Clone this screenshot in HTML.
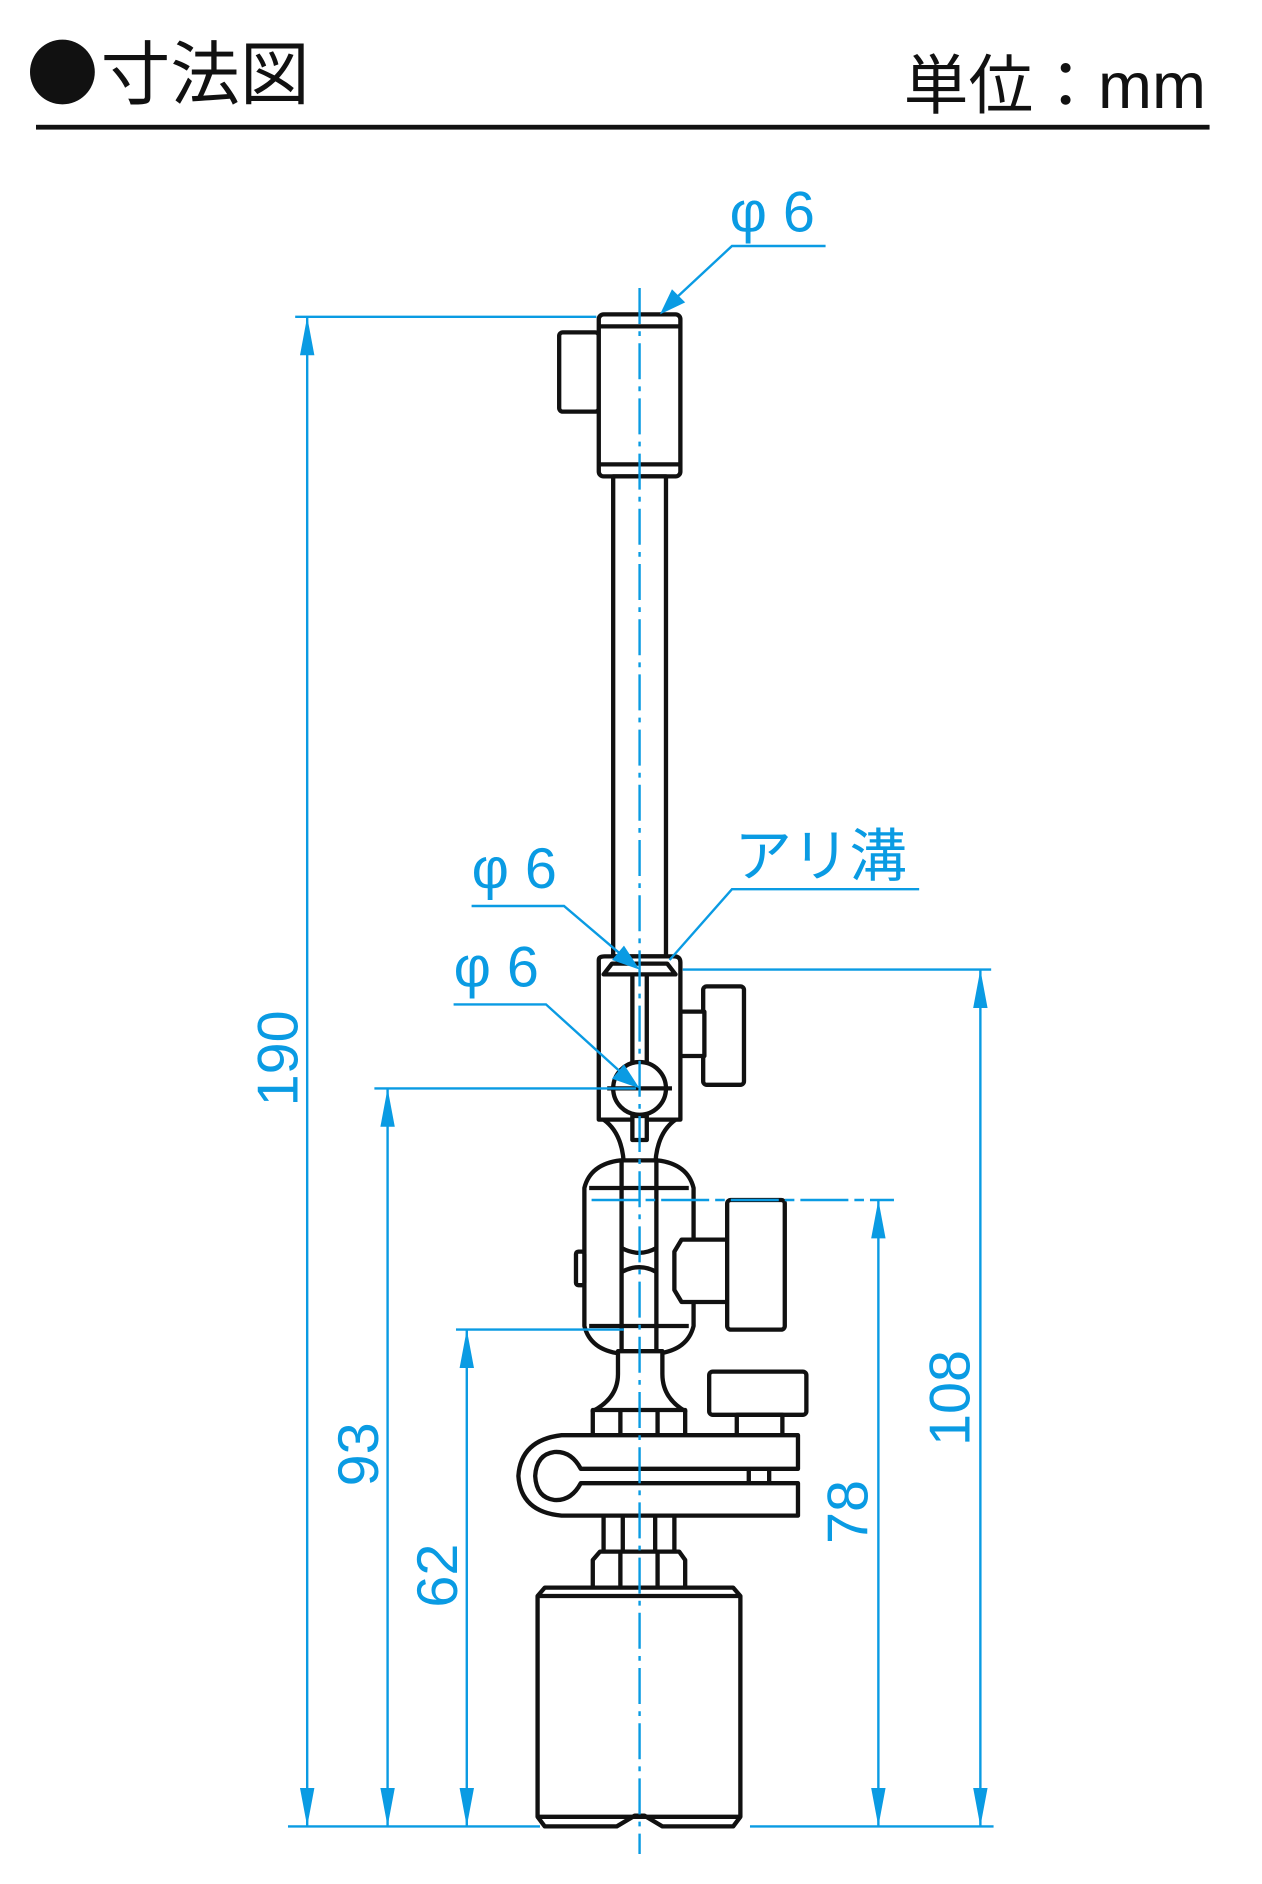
<!DOCTYPE html>
<html><head><meta charset="utf-8"><style>
html,body{margin:0;padding:0;background:#fff;width:1262px;height:1884px;overflow:hidden}
svg{display:block}
.b{fill:none;stroke:#111;stroke-width:3.6;stroke-linejoin:round}
.w{fill:#fff;stroke:#111;stroke-width:3.6;stroke-linejoin:round}
.c{stroke:#0a9be3;stroke-width:2;fill:none}
.a{fill:#0a9be3}
.t{fill:#0a9be3;font-family:"Liberation Sans","Noto Sans CJK JP",sans-serif}
</style></head><body>
<svg width="1262" height="1884" viewBox="0 0 1051.7 1570" preserveAspectRatio="none">
<!-- header -->
<circle cx="52" cy="60" r="27" fill="#111"/>
<text x="84" y="82" font-size="58" font-family="'Liberation Sans','Noto Sans CJK JP',sans-serif" fill="#111">寸法図</text>
<text x="1005" y="90" text-anchor="end" font-size="54" font-family="'Liberation Sans','Noto Sans CJK JP',sans-serif" fill="#111">単位：mm</text>
<rect x="30" y="104" width="978" height="4" fill="#111"/>

<!-- drawing -->
<rect class="w" x="466" y="277" width="33" height="66" rx="3"/>
<rect class="w" x="499" y="262" width="68" height="135" rx="4"/>
<line class="b" x1="499" y1="272" x2="567" y2="272"/>
<line class="b" x1="499" y1="387" x2="567" y2="387"/>
<rect class="w" x="511" y="397" width="44" height="400"/>
<!-- mid block -->
<rect class="w" x="586" y="822" width="34" height="82" rx="3"/>
<rect class="w" x="567" y="843" width="20" height="37"/>
<path class="w" d="M499 800 Q499 797 504 797 L562 797 Q567 797 567 802 L567 933 L499 933 Z"/>
<path class="b" d="M503 812 L510 803 L556 803 L563 812 Z"/>
<path class="b" d="M527 812 L527 890 M539 812 L539 890"/>
<circle class="w" cx="533" cy="907" r="22"/>
<line class="b" x1="506" y1="907" x2="560" y2="907"/>
<!-- neck -->
<path class="w" d="M503 933 Q520 945 520 975 L546 975 Q546 945 563 933 Z"/>
<rect class="w" x="527" y="930" width="12" height="20"/>
<!-- ball joint -->
<path class="w" d="M487 990 Q492 970 517 967 L548 967 Q573 970 578 990 L578 1105 Q573 1125 548 1128 L517 1128 Q492 1125 487 1105 Z"/>
<line class="b" x1="491" y1="990" x2="574" y2="990"/>
<line class="b" x1="491" y1="1105" x2="574" y2="1105"/>
<path class="b" d="M518 967 L518 1128 M547 967 L547 1128"/>
<path class="b" d="M518 1040 Q533 1048 547 1040 M518 1060 Q533 1052 547 1060"/>
<rect class="w" x="480" y="1043" width="7" height="28" rx="2"/>
<path class="w" d="M568 1033 L606 1033 L606 1085 L568 1085 L562 1075 L562 1043 Z"/>
<rect class="w" x="606" y="1000" width="48" height="108" rx="3"/>
<!-- lower neck -->
<path class="w" d="M515 1126 L515 1145 Q515 1165 494 1176 L571 1176 Q552 1165 552 1145 L552 1126 Z"/>
<rect class="w" x="494" y="1175" width="77" height="22"/>
<path class="b" d="M517 1175 L517 1197 M548 1175 L548 1197"/>
<rect class="w" x="591" y="1143" width="81" height="36" rx="3"/>
<rect class="w" x="614" y="1179" width="38" height="18"/>
<!-- clamp -->
<path class="w" d="M468 1196 L665 1196 L665 1224 L484 1224 Q476 1209 462 1210 Q447 1212 446 1230 Q447 1248 462 1250 Q476 1251 484 1236 L665 1236 L665 1263 L468 1263 Q434 1260 432 1230 Q434 1200 468 1196 Z"/>
<path class="b" d="M624 1224 L624 1236 M641 1224 L641 1236"/>
<!-- lower nut -->
<rect class="w" x="503" y="1263" width="59" height="30"/>
<path class="b" d="M519 1263 L519 1293 M546 1263 L546 1293"/>
<path class="w" d="M500 1293 L566 1293 L571 1300 L571 1323 L494 1323 L494 1300 Z"/>
<path class="b" d="M517 1293 L517 1323 M548 1293 L548 1323"/>
<!-- cylinder -->
<path class="w" d="M454 1323 L611 1323 L617 1330 L617 1514 L611 1522 L552 1522 L537 1513 L529 1513 L514 1522 L454 1522 L448 1514 L448 1330 Z"/>
<line class="b" x1="449" y1="1330" x2="616" y2="1330"/>
<line class="b" x1="449" y1="1514" x2="616" y2="1514"/>

<!-- center line -->
<line class="c" x1="533" y1="240" x2="533" y2="1545" stroke-dasharray="30,6,4,6"/>

<!-- extension lines -->
<line class="c" x1="246" y1="264" x2="497" y2="264"/>
<line class="c" x1="312" y1="907" x2="530" y2="907"/>
<line class="c" x1="380" y1="1108" x2="520" y2="1108"/>
<line class="c" x1="569" y1="808" x2="826" y2="808"/>
<line class="c" x1="493" y1="1000" x2="745" y2="1000" stroke-dasharray="40,5,8,5"/>
<line class="c" x1="240" y1="1522" x2="450" y2="1522"/>
<line class="c" x1="625" y1="1522" x2="828" y2="1522"/>

<!-- dimension lines -->
<g>
<line class="c" x1="256" y1="264" x2="256" y2="1522"/>
<path class="a" d="M256 264 L250 296 L262 296Z M256 1522 L250 1490 L262 1490Z"/>
<line class="c" x1="323" y1="907" x2="323" y2="1522"/>
<path class="a" d="M323 907 L317 939 L329 939Z M323 1522 L317 1490 L329 1490Z"/>
<line class="c" x1="389" y1="1108" x2="389" y2="1522"/>
<path class="a" d="M389 1108 L383 1140 L395 1140Z M389 1522 L383 1490 L395 1490Z"/>
<line class="c" x1="817" y1="808" x2="817" y2="1522"/>
<path class="a" d="M817 808 L811 840 L823 840Z M817 1522 L811 1490 L823 1490Z"/>
<line class="c" x1="732" y1="1000" x2="732" y2="1522"/>
<path class="a" d="M732 1000 L726 1032 L738 1032Z M732 1522 L726 1490 L738 1490Z"/>
</g>
<text class="t" font-size="48" transform="translate(248,882) rotate(-90)" text-anchor="middle">190</text>
<text class="t" font-size="48" transform="translate(315,1212) rotate(-90)" text-anchor="middle">93</text>
<text class="t" font-size="48" transform="translate(381,1313) rotate(-90)" text-anchor="middle">62</text>
<text class="t" font-size="48" transform="translate(808,1165) rotate(-90)" text-anchor="middle">108</text>
<text class="t" font-size="48" transform="translate(723,1260) rotate(-90)" text-anchor="middle">78</text>

<!-- leaders -->
<text class="t" x="608" y="193" font-size="48">φ 6</text>
<polyline class="c" points="688,205 610,205 553,258"/>
<path class="a" d="M550 262 L560 241 L571 252Z"/>
<text class="t" x="393" y="740" font-size="48">φ 6</text>
<polyline class="c" points="393,755 470,755 530,806"/>
<path class="a" d="M533 808 L510 800 L520 788Z"/>
<text class="t" x="378" y="822" font-size="48">φ 6</text>
<polyline class="c" points="378,837 455,837 530,905"/>
<path class="a" d="M533 907 L510 899 L520 887Z"/>
<text class="t" x="612" y="730" font-size="48">アリ溝</text>
<polyline class="c" points="766,741 610,741 558,800"/>
</svg>
</body></html>
